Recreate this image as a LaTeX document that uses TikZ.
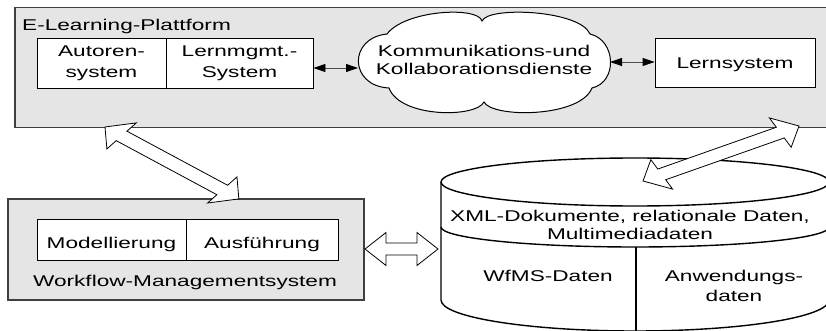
\documentclass[tikz,border=0pt]{standalone}
\usepackage{fontspec}
\newfontfamily\dfont{Liberation Sans}[FakeStretch=1.45]
\usetikzlibrary{calc,arrows.meta}

\tikzset{
  lbl/.style={font=\dfont\fontsize{15.6}{20.6}\selectfont, inner sep=0pt},
  platform/.style={draw=black!75, line width=1.2pt, fill=black!10, inner sep=0pt},
  cell/.style={lbl, draw=black, line width=0.9pt, fill=white, align=center},
  onecell/.style={cell, text height=11.5pt, text depth=0pt},
  lowcell/.style={cell, text height=18.5pt, text depth=0pt},
  cloudline/.style={draw=black, line width=1pt, fill=white},
  hollow/.style={draw=black, line width=0.8pt, fill=white, line join=miter},
  thinarrow/.style={draw=black!70, line width=0.9pt,
    {Triangle[length=12pt,width=8pt,color=black]}-{Triangle[length=12pt,width=8pt,color=black]}},
  cyl/.style={draw=black, line width=1.4pt},
}

% wide hollow double arrow between two points, drawn in the horizontally
% stretched frame so that heads and shaft keep their proportions
\newcommand\hollowarrow[2]{%
  \path let \p1=(#1), \p2=(#2) in
    \pgfextra{%
      \pgfmathsetmacro\haang{atan2(\y2-\y1,(\x2-\x1)/1.45)}%
      \pgfmathsetmacro\halen{veclen((\x2-\x1)/1.45,\y2-\y1)}%
      \global\let\haang\haang \global\let\halen\halen};
  \begin{scope}[shift={(#1)}, xscale=1.45, rotate=\haang]
    \draw[hollow] (0pt,0pt) -- (14.5pt,16.5pt) -- (14.5pt,6pt)
      -- (\halen pt-14.5pt,6pt) -- (\halen pt-14.5pt,16.5pt) -- (\halen pt,0pt)
      -- (\halen pt-14.5pt,-16.5pt) -- (\halen pt-14.5pt,-6pt)
      -- (14.5pt,-6pt) -- (14.5pt,-16.5pt) -- cycle;
  \end{scope}}

\begin{document}
\begin{tikzpicture}[x=1pt, y=-1pt]
\path[use as bounding box] (0,0) rectangle (826,331);
\clip (0,0) rectangle (826,331);
\fill[white] (0,0) rectangle (826,331);

% e-learning platform
\node[platform, minimum width=817pt, minimum height=120pt] (elp) at (423.5,67.7) {};
\node[lbl, anchor=base west] (elptitle) at (22,30.3) {E-Learning-Plattform};

\node[cell, minimum width=129pt, minimum height=50pt] (autor) at (101.5,63) {Autoren-\\system};
\node[cell, minimum width=147pt, minimum height=50pt] (lms) at (239.5,63) {Lernmgmt.-\\System};

% communication and collaboration services
\draw[cloudline] (387,34) .. controls (405,10) and (478,6) .. (482,21)
  .. controls (488,6) and (580,10) .. (590,34)
  .. controls (616,40) and (618,82) .. (592,88)
  .. controls (580,118) and (492,118) .. (484,102)
  .. controls (476,118) and (400,118) .. (389,88)
  .. controls (349,86) and (348,38) .. cycle;
\node[lbl, align=center, font=\dfont\fontsize{15.6}{18.3}\selectfont] (kom) at (484,60)
  {Kommunikations-und\\Kollaborationsdienste};
\coordinate (komw) at (358,68);
\coordinate (kome) at (610,62);

\node[onecell, minimum width=160pt, minimum height=49pt] (lern) at (735,62.5) {Lernsystem};

\draw[thinarrow] (lms.east |- komw) -- (komw);
\draw[thinarrow] (kome) -- (kome -| lern.west);

% workflow management system
\node[platform, minimum width=356pt, minimum height=101pt] (wfms) at (186,249.5) {};
\node[lowcell, minimum width=149pt, minimum height=41pt] (model) at (111.5,239.5) {Modellierung};
\node[lowcell, minimum width=152pt, minimum height=41pt] (ausf) at (262,239.5) {Ausführung};
\node[lbl, anchor=base] (wftitle) at (185,286.7) {Workflow-Managementsystem};

% database cylinder
\draw[cyl, fill=white] (441,182) -- (441,300)
  arc[start angle=180, end angle=360, x radius=194pt, y radius=31pt] -- (829,182);
\draw[cyl] (635,182) ellipse[x radius=194pt, y radius=24pt];
\draw[cyl] (441,227) arc[start angle=180, end angle=360, x radius=194pt, y radius=20pt];
\coordinate (cylsplit) at (636,247);
\draw[cyl, line width=1.1pt] (cylsplit) -- (636,340);
\node[lbl, align=center, font=\dfont\fontsize{15.6}{18.3}\selectfont] (xml) at (630,225.2)
  {XML-Dokumente, relationale Daten,\\Multimediadaten};
\node[lbl, anchor=base] (wfdata) at (548,281.7) {WfMS-Daten};
\node[lbl, align=center, font=\dfont\fontsize{15.6}{20}\selectfont] (appdata) at (734,286)
  {Anwendungs-\\daten};

% wide connectors
\coordinate (h1a) at (105,127);
\coordinate (h1b) at (239,199);
\coordinate (h2a) at (365,249);
\coordinate (h2b) at (438,249);
\coordinate (h3a) at (643,181);
\coordinate (h3b) at (799,126);
\hollowarrow{h1a}{h1b}
\hollowarrow{h2a}{h2b}
\hollowarrow{h3a}{h3b}
\end{tikzpicture}
\end{document}
